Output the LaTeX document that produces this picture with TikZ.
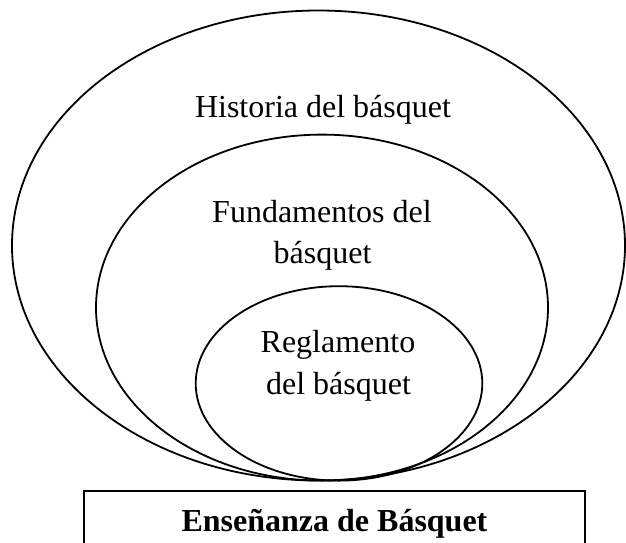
\documentclass[tikz,border=0pt]{standalone}
\usepackage{fontspec}
\setmainfont{Liberation Serif}
\usetikzlibrary{shapes.geometric}
\begin{document}
\begin{tikzpicture}[x=0.5pt,y=-0.5pt,
  ring/.style={draw=black, line width=0.9pt, ellipse, inner sep=0pt},
  lbl/.style={anchor=base, inner sep=0pt, font=\fontsize{16}{20}\selectfont},
  framebox/.style={draw=black, line width=1pt, rectangle, inner sep=0pt, minimum width=250.5pt, minimum height=28.5pt}]
\useasboundingbox (0,0) rectangle (626,542);
% ellipses
\node[ring, minimum width=306.5pt, minimum height=235pt] (outer) at (318.5,245.5) {};
\node[ring, minimum width=226pt, minimum height=173pt] (middle) at (322,307.6) {};
\node[ring, minimum width=143.3pt, minimum height=97.2pt] (inner) at (339,383.4) {};
% labels
\node[lbl] (hist) at (323,117.5) {Historia del básquet};
\node[lbl] (fund1) at (322,222) {Fundamentos del};
\node[lbl] (fund2) at (322.6,263.5) {básquet};
\node[lbl] (reg1) at (338,352.6) {Reglamento};
\node[lbl] (reg2) at (338.5,394) {del básquet};
% box
\node[framebox] (box) at (334.5,519.5) {};
\node[lbl, font=\fontsize{16}{20}\selectfont\bfseries] (boxlabel) at (334.5,531.5) {Enseñanza de Básquet};
\end{tikzpicture}
\end{document}
